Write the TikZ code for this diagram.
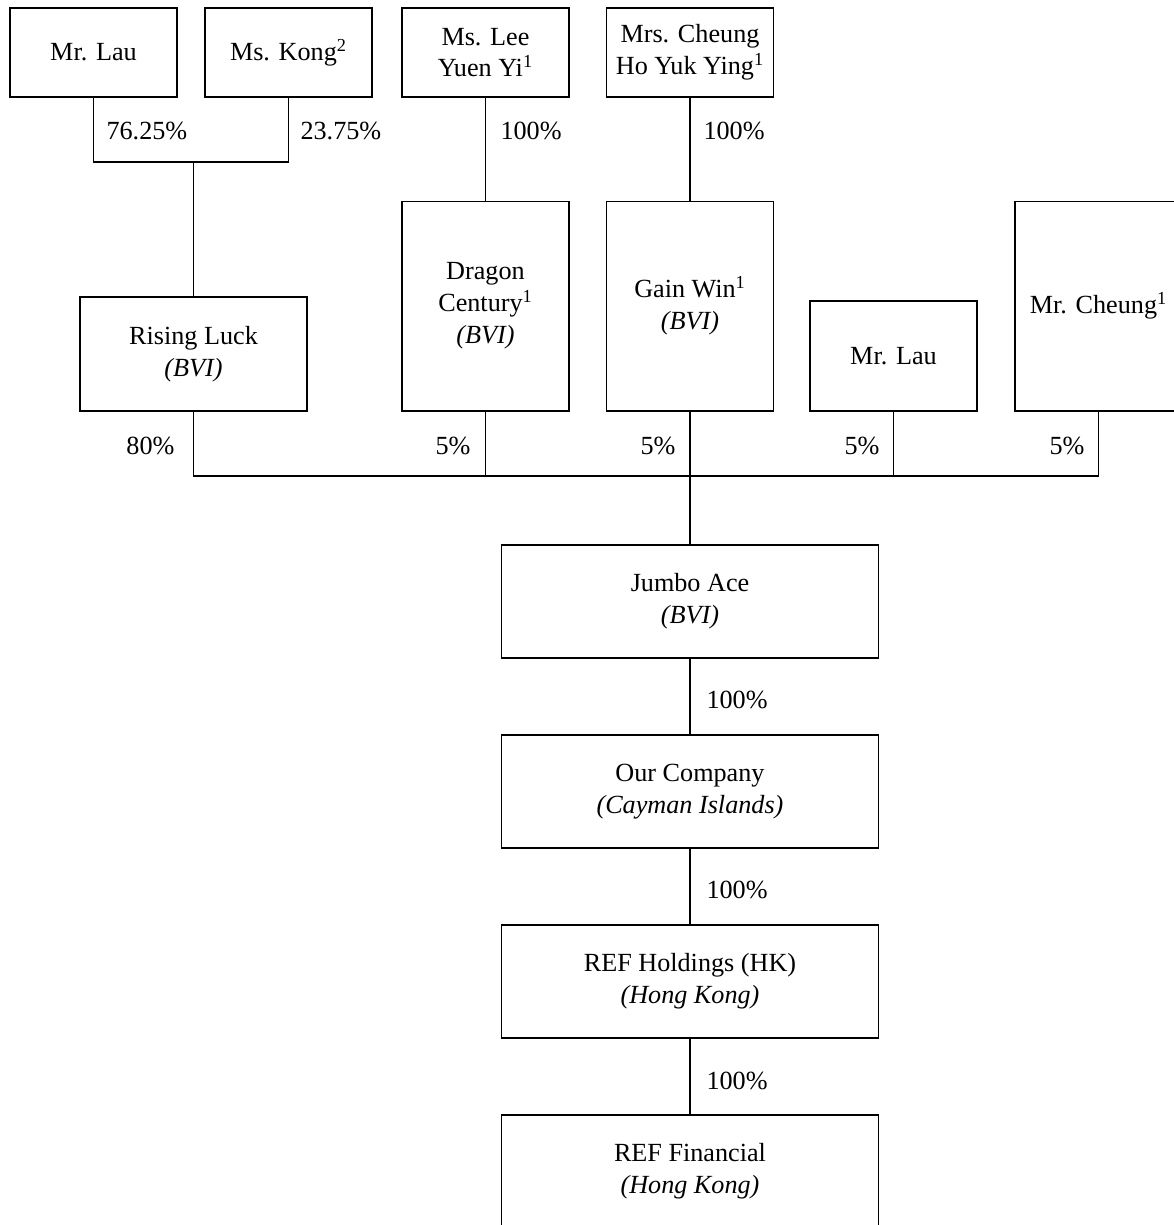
\documentclass[tikz,border=0pt]{standalone}
\usepackage{fontspec}
\setmainfont{Liberation Serif}
\tikzset{
  box/.style={draw,inner sep=0pt,align=center,font=\fontsize{14.9}{18.1}\selectfont},
  pct/.style={inner sep=0pt,font=\fontsize{14.9}{18.1}\selectfont},
}
\begin{document}
\begin{tikzpicture}[x=0.02cm,y=-0.02cm,line width=0.6pt]
\useasboundingbox (0,0) rectangle (1174,1225);
\clip (0,0) rectangle (1174,1225);
\node [box,minimum width=3.34cm,minimum height=1.78cm] (lau) at (93.5,52.5) {Mr. Lau};
\node [box,minimum width=3.34cm,minimum height=1.78cm] (kong) at (288.5,52.5) {Ms. Kong\textsuperscript{2}};
\node [box,minimum width=3.34cm,minimum height=1.78cm] (lee) at (485.5,52.5) {Ms. Lee\\Yuen Yi\textsuperscript{1}};
\node [box,minimum width=3.34cm,minimum height=1.78cm] (hoyuk) at (690,52.5) {Mrs. Cheung\\Ho Yuk Ying\textsuperscript{1}};
\node [box,minimum width=4.54cm,minimum height=2.28cm] (rising) at (193.5,354) {Rising Luck\\\textit{(BVI)}};
\node [box,minimum width=3.34cm,minimum height=4.2cm] (dragon) at (485.5,306) {Dragon\\Century\textsuperscript{1}\\\textit{(BVI)}};
\node [box,minimum width=3.34cm,minimum height=4.2cm] (gainwin) at (690,306) {Gain Win\textsuperscript{1}\\\textit{(BVI)}};
\node [box,minimum width=3.34cm,minimum height=2.2cm] (lautwo) at (893.5,356) {Mr. Lau};
\node [box,minimum width=3.34cm,minimum height=4.2cm] (cheung) at (1098.5,306) {Mr. Cheung\textsuperscript{1}};
\node [box,minimum width=7.56cm,minimum height=2.26cm] (jumbo) at (690,601.5) {Jumbo Ace\\\textit{(BVI)}};
\node [box,minimum width=7.56cm,minimum height=2.26cm] (ourco) at (690,791.5) {Our Company\\\textit{(Cayman Islands)}};
\node [box,minimum width=7.56cm,minimum height=2.26cm] (refhk) at (690,981.5) {REF Holdings (HK)\\\textit{(Hong Kong)}};
\node [box,minimum width=7.56cm,minimum height=2.26cm] (reffin) at (690,1171.5) {REF Financial\\\textit{(Hong Kong)}};
\coordinate (top) at (193.5,162);
\coordinate (bus) at (690,476);
\draw (lau.south) |- (kong.south |- top) -- (kong.south);
\draw (top) -- (rising.north);
\draw (lee.south) -- (dragon.north);
\draw (hoyuk.south) -- (gainwin.north);
\draw (rising.south) |- (cheung.south |- bus) -- (cheung.south);
\draw (dragon.south) -- (dragon.south |- bus);
\draw (gainwin.south) -- (jumbo.north);
\draw (lautwo.south) -- (lautwo.south |- bus);
\draw (jumbo.south) -- (ourco.north);
\draw (ourco.south) -- (refhk.north);
\draw (refhk.south) -- (reffin.north);
\node [pct,anchor=west] (plau) at (106,131) {76.25\%};
\node [pct,anchor=west] (pkong) at (300,131) {23.75\%};
\node [pct,anchor=west] (plee) at (500,131) {100\%};
\node [pct,anchor=west] (phoyuk) at (703,131) {100\%};
\node [pct,anchor=east] (prising) at (175,446) {80\%};
\node [pct,anchor=east] (pdragon) at (471,446) {5\%};
\node [pct,anchor=east] (pgainwin) at (676,446) {5\%};
\node [pct,anchor=east] (plautwo) at (880,446) {5\%};
\node [pct,anchor=east] (pcheung) at (1085,446) {5\%};
\node [pct,anchor=west] (pjumbo) at (706,700) {100\%};
\node [pct,anchor=west] (pourco) at (706,890) {100\%};
\node [pct,anchor=west] (prefhk) at (706,1081) {100\%};
\end{tikzpicture}
\end{document}
